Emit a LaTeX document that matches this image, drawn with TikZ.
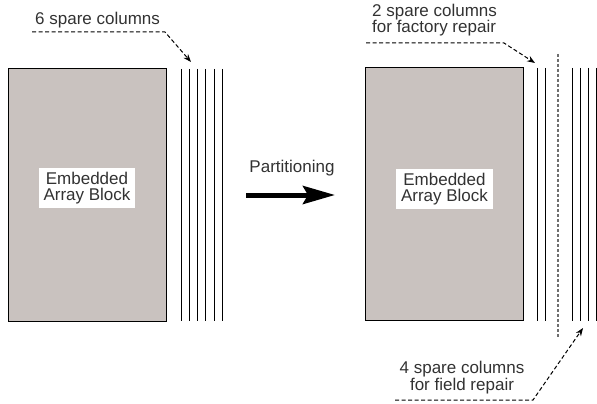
\documentclass[tikz,border=0pt]{standalone}
\usepackage{fontspec}
\setmainfont{Liberation Sans}
\usetikzlibrary{arrows.meta,positioning}
\definecolor{BlockClr}{RGB}{201,194,191}
\definecolor{TextClr}{RGB}{50,50,50}
\definecolor{SepClr}{RGB}{110,110,110}

\begin{document}
\begin{tikzpicture}[x=1pt,y=-1pt,
font=\fontsize{17}{16.5}\selectfont,
block/.style={draw,line width=1pt,fill=BlockClr,minimum width=158pt,minimum height=252pt,inner sep=0pt},
blocktext/.style={fill=white,align=center,text=TextClr,inner xsep=5pt,inner ysep=4pt},
note/.style={text=TextClr,inner sep=0pt},
leader/.style={line width=1pt,dash pattern=on 4pt off 2.5pt,-{Stealth[length=8pt,width=6pt]}},
col/.style={line width=0.9pt},
sep/.style={line width=1.2pt,color=SepClr,dash pattern=on 3pt off 2pt}]
\useasboundingbox (0,0) rectangle (597,404);

\node[block] (arrL) at (87,195) {};
\node[blocktext] (txtL) at (87,188) {Embedded\\Array Block};
\foreach \i in {0,...,5}
  \draw[col] (181+8.3*\i,69) -- ++(0,252);

\node[note,anchor=base west] (lab6) at (35,24.5) {6 spare columns};
\coordinate (s6) at (32,32);
\coordinate (s6bend) at (165,32);
\coordinate (s6tip) at (191,62);
\draw[leader] (s6) -- (s6bend) -- (s6tip);

\node[note,anchor=base] (part) at (292,172.5) {Partitioning};
\coordinate (pfrom) at (246,195);
\coordinate (pto) at (335,195);
\draw[line width=5pt,-{Stealth[length=32pt,width=18pt,inset=5pt]}] (pfrom) -- (pto);

\node[block] (arrR) at (444,194) {};
\node[blocktext] (txtR) at (444.5,189) {Embedded\\Array Block};
\foreach \x in {537,545,572,580,588,596.5}
  \draw[col] (\x,68) -- ++(0,253);
\draw[sep] (558,54) -- (558,338);

\node[note,anchor=north west,align=left] (lab2) at (372,3.8) {2 spare columns\\for factory repair};
\coordinate (s2) at (366,43);
\coordinate (s2bend) at (504,43);
\coordinate (s2tip) at (535,63);
\draw[leader] (s2) -- (s2bend) -- (s2tip);

\node[note,anchor=north,align=center] (lab4) at (462,361) {4 spare columns\\for field repair};
\coordinate (s4) at (395,400);
\coordinate (s4bend) at (533,400);
\coordinate (s4tip) at (583,328);
\draw[leader] (s4) -- (s4bend) -- (s4tip);
\end{tikzpicture}
\end{document}
